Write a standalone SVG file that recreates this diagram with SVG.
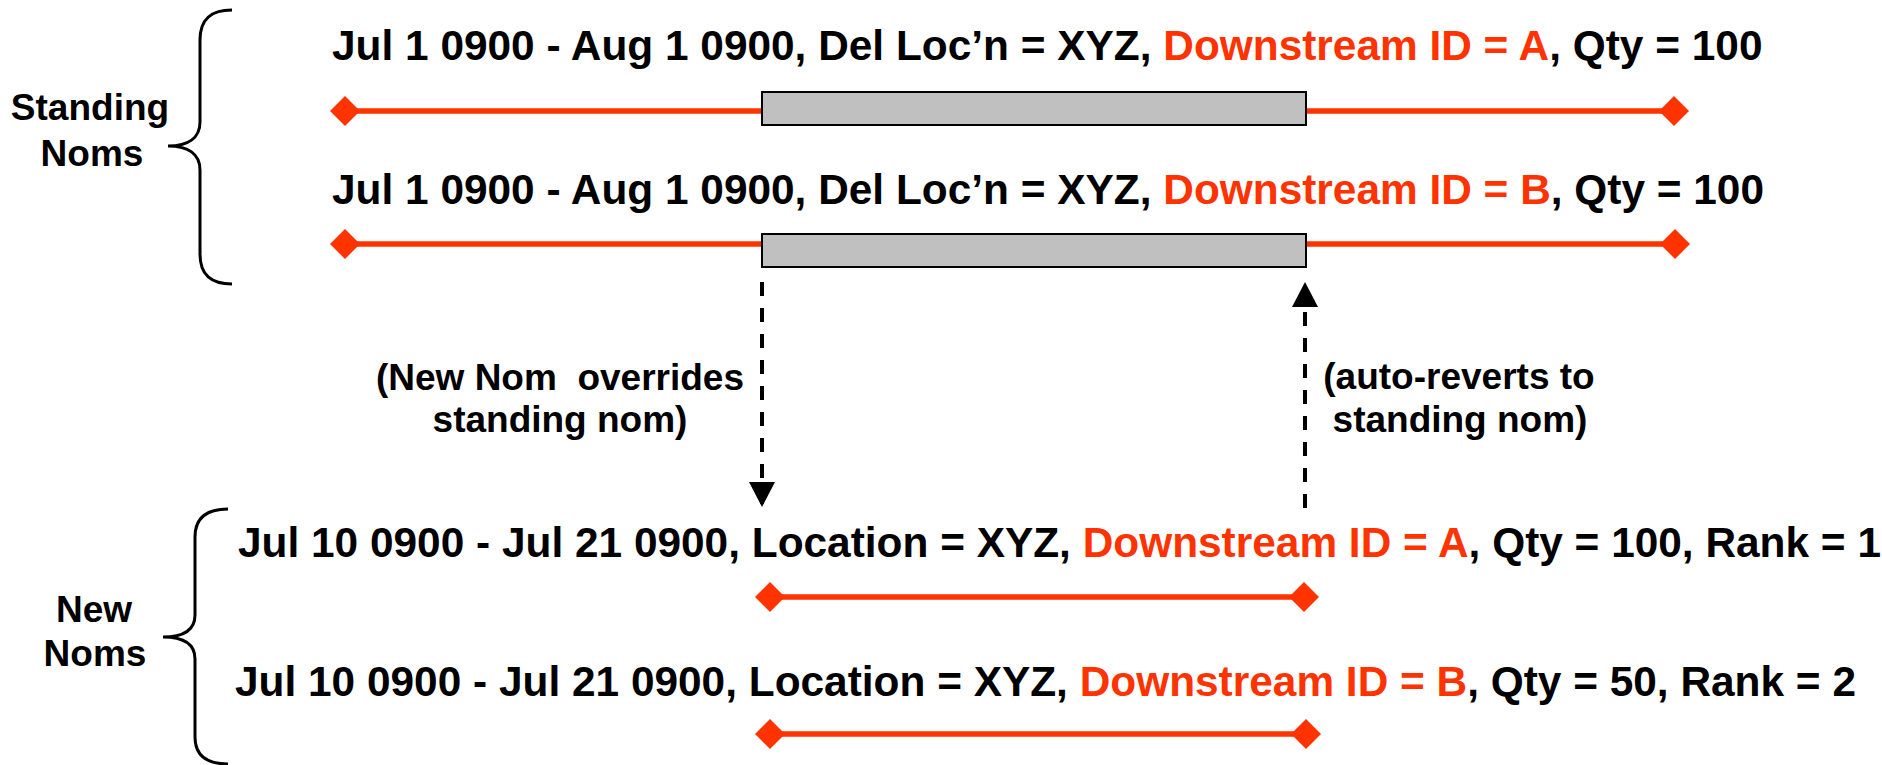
<svg xmlns="http://www.w3.org/2000/svg" width="1882" height="765" viewBox="0 0 1882 765">
<style>
.t{font-family:"Liberation Sans",Arial,sans-serif;font-weight:bold;font-size:42.4px;fill:#000}
.l{font-family:"Liberation Sans",Arial,sans-serif;font-weight:bold;font-size:37px;fill:#000;text-anchor:middle}
.r{fill:#FF3300}
.bar{stroke:#FF3300;stroke-width:5.5;fill:none}
.box{fill:#C0C0C0;stroke:#000;stroke-width:2}
.brace{fill:none;stroke:#000;stroke-width:3}
.dash{stroke:#000;stroke-width:4;stroke-dasharray:14 12;fill:none}
</style>
<defs>
<marker id="dia" viewBox="0 0 30 30" refX="15" refY="15" markerWidth="30" markerHeight="30" markerUnits="userSpaceOnUse" orient="auto">
<path d="M0,15 L15,0 L30,15 L15,30 Z" fill="#FF3300"/>
</marker>
<marker id="arr" viewBox="0 0 25 26" refX="25" refY="13" markerWidth="25" markerHeight="26" markerUnits="userSpaceOnUse" orient="auto">
<path d="M0,0 L25,13 L0,26 Z" fill="#000"/>
</marker>
</defs>

<g id="standing-brace">
<path class="brace" d="M232,10 C212,10 200,18 200,40 L200,122 C200,138 188,146 168,146 C188,146 200,154 200,170 L200,254 C200,276 212,284 232,284"/>
<text class="l" x="90" y="120">Standing</text>
<text class="l" x="92" y="166">Noms</text>
</g>

<g id="standing-nom-a">
<text class="t" x="332" y="60">Jul 1 0900 - Aug 1 0900, Del Loc’n = XYZ, <tspan class="r">Downstream ID = A</tspan>, Qty = 100</text>
<line class="bar" x1="345" y1="111" x2="1674" y2="111" marker-start="url(#dia)" marker-end="url(#dia)"/>
<rect class="box" x="762" y="92" width="544" height="33"/>
</g>

<g id="standing-nom-b">
<text class="t" x="332" y="204">Jul 1 0900 - Aug 1 0900, Del Loc’n = XYZ, <tspan class="r">Downstream ID = B</tspan>, Qty = 100</text>
<line class="bar" x1="345" y1="244" x2="1675" y2="244" marker-start="url(#dia)" marker-end="url(#dia)"/>
<rect class="box" x="762" y="234" width="544" height="33"/>
</g>

<g id="new-brace">
<path class="brace" d="M228,509 C208,509 195,517 195,537 L195,615 C195,630 183,637 163,637 C183,637 195,644 195,659 L195,737 C195,757 208,764 228,764"/>
<text class="l" x="94" y="622">New</text>
<text class="l" x="95" y="666">Noms</text>
</g>

<g id="new-nom-a">
<text class="t" x="238" y="557">Jul 10 0900 - Jul 21 0900, Location = XYZ, <tspan class="r">Downstream ID = A</tspan>, Qty = 100, Rank = 1</text>
<line class="bar" x1="770" y1="597" x2="1304" y2="597" marker-start="url(#dia)" marker-end="url(#dia)"/>
</g>

<g id="new-nom-b">
<text class="t" x="235" y="696">Jul 10 0900 - Jul 21 0900, Location = XYZ, <tspan class="r">Downstream ID = B</tspan>, Qty = 50, Rank = 2</text>
<line class="bar" x1="770" y1="734" x2="1306" y2="734" marker-start="url(#dia)" marker-end="url(#dia)"/>
</g>

<g id="connectors">
<line class="dash" x1="762" y1="282" x2="762" y2="507" marker-end="url(#arr)"/>
<line class="dash" x1="1305" y1="508" x2="1305" y2="282" marker-end="url(#arr)"/>
</g>

<g id="labels">
<text class="l" x="560" y="390" xml:space="preserve">(New Nom  overrides</text>
<text class="l" x="560" y="432">standing nom)</text>
<text class="l" x="1459" y="389">(auto-reverts to</text>
<text class="l" x="1460" y="432">standing nom)</text>
</g>
</svg>
